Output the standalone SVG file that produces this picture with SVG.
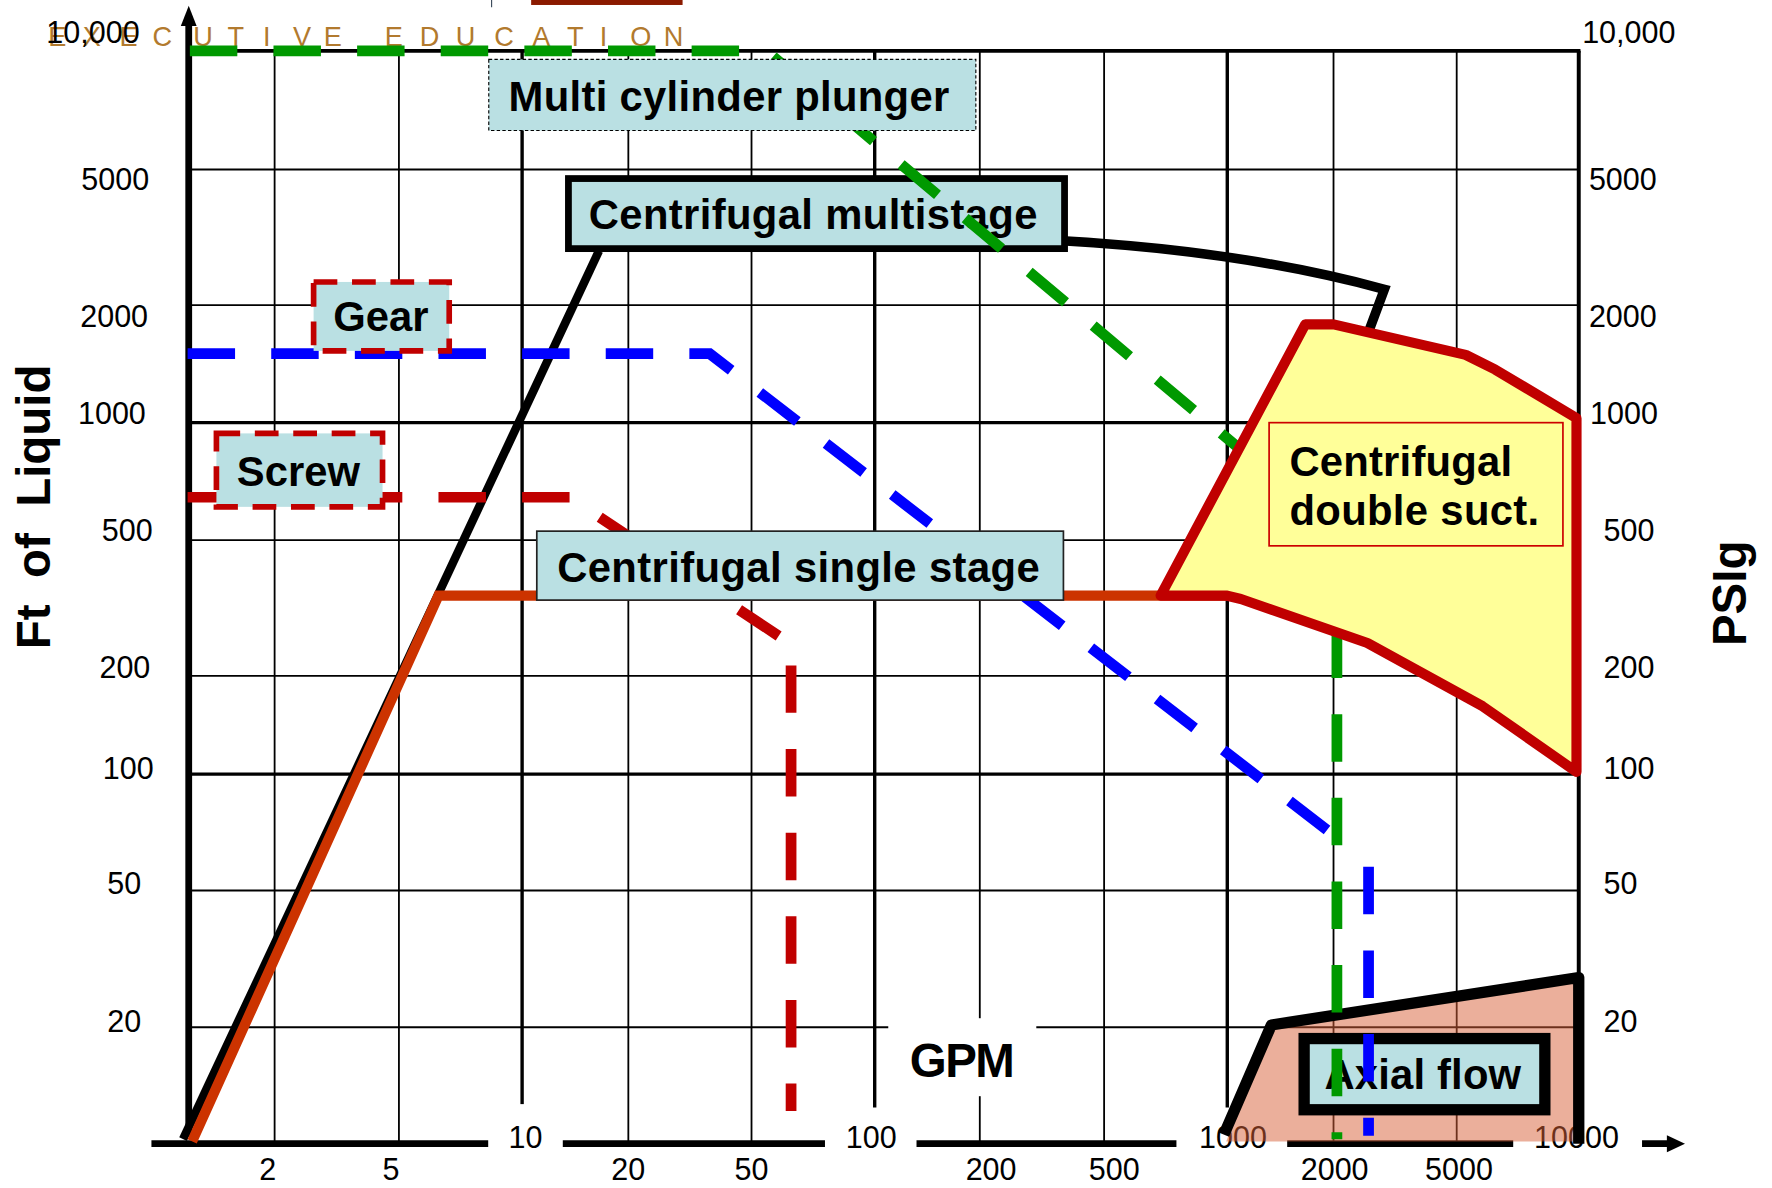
<svg xmlns="http://www.w3.org/2000/svg" width="1772" height="1188" viewBox="0 0 1772 1188">
<style>
.gt{stroke:#000;stroke-width:1.6;fill:none}
.gk{stroke:#000;stroke-width:3;fill:none}
.ax{stroke:#000;stroke-width:6;fill:none}
.num{font-family:"Liberation Sans",Arial,sans-serif;font-size:27px;fill:#000}
.lbl{font-family:"Liberation Sans",Arial,sans-serif;font-weight:bold;font-size:37px;fill:#000}
.ttl{font-family:"Liberation Sans",Arial,sans-serif;font-weight:bold;font-size:42px;fill:#000}
.box{fill:#BAE0E3}
.wm{font-family:"Liberation Sans",Arial,sans-serif;font-size:24px;fill:#B27A2E}
.dash{fill:none;stroke-width:9.5;stroke-dasharray:42 32}
</style>
<rect x="0" y="0" width="1772" height="1188" fill="#fff"/>
<g transform="scale(1.1301)">
  <!-- header artifacts -->
  <rect x="470" y="0" width="134" height="4.4" fill="#8B1A00"/>
  <line x1="435" y1="0" x2="435" y2="6.5" stroke="#3A4A5A" stroke-width="1"/>

  <!-- grid -->
  <g id="grid">
    <g class="gt">
      <line x1="243" y1="45" x2="243" y2="1012"/>
      <line x1="353" y1="45" x2="353" y2="1012"/>
      <line x1="556" y1="45" x2="556" y2="1012"/>
      <line x1="665" y1="45" x2="665" y2="1012"/>
      <line x1="867" y1="45" x2="867" y2="1012"/>
      <line x1="977" y1="45" x2="977" y2="1012"/>
      <line x1="1180" y1="45" x2="1180" y2="1012"/>
      <line x1="1289" y1="45" x2="1289" y2="1012"/>
      <line x1="166" y1="150" x2="1397" y2="150"/>
      <line x1="166" y1="270" x2="1397" y2="270"/>
      <line x1="166" y1="478" x2="1397" y2="478"/>
      <line x1="166" y1="598" x2="1397" y2="598"/>
      <line x1="166" y1="788" x2="1397" y2="788"/>
      <line x1="166" y1="909" x2="1397" y2="909"/>
    </g>
    <g class="gk">
      <line x1="462" y1="45" x2="462" y2="1012"/>
      <line x1="774" y1="45" x2="774" y2="1012"/>
      <line x1="1086" y1="45" x2="1086" y2="1012"/>
      <line x1="166" y1="374" x2="1397" y2="374"/>
      <line x1="166" y1="685" x2="1397" y2="685"/>
      <line x1="166" y1="45" x2="1398.5" y2="45" stroke-width="3.5"/>
      <line x1="1397" y1="45" x2="1397" y2="1012" stroke-width="3.5"/>
    </g>
  </g>

  <!-- axes -->
  <g id="axes">
    <line class="ax" x1="167" y1="1006" x2="167" y2="20" stroke-width="5"/>
    <polygon points="167,5 160,23 174,23" fill="#000"/>
    <line class="ax" x1="134" y1="1012" x2="1476" y2="1012"/>
    <polygon points="1491,1012 1475,1004.5 1475,1019.5" fill="#000"/>
  </g>

  <!-- label backgrounds cutting axis -->
  <g fill="#fff">
    <rect x="432" y="977" width="66" height="40"/>
    <rect x="730" y="980" width="81" height="37"/>
    <rect x="1041" y="980" width="98" height="37"/>
    <rect x="1339" y="980" width="114" height="37"/>
    <rect x="786" y="901" width="131" height="69"/>
  </g>

  <!-- watermark -->
  <text class="wm" text-anchor="middle" x="50.6 81.3 113.8 143.6 179.7 208.6 236.1 267.3 294.4 321 348.5 380 412 446 479 509 534 567 596" y="41">EXECUTIVE EDUCATION</text>

  <!-- y labels left -->
  <g id="ylabels-left" class="num">
    <text x="41" y="38">10,000</text>
    <text x="72" y="168">5000</text>
    <text x="71" y="289">2000</text>
    <text x="69" y="375">1000</text>
    <text x="90" y="479">500</text>
    <text x="88" y="600">200</text>
    <text x="91" y="689">100</text>
    <text x="95" y="791">50</text>
    <text x="95" y="913">20</text>
  </g>
  <g id="ylabels-right" class="num">
    <text x="1400" y="38">10,000</text>
    <text x="1406" y="168">5000</text>
    <text x="1406" y="289">2000</text>
    <text x="1407" y="375">1000</text>
    <text x="1419" y="479">500</text>
    <text x="1419" y="600">200</text>
    <text x="1419" y="689">100</text>
    <text x="1419" y="791">50</text>
    <text x="1419" y="913">20</text>
  </g>
  <g id="xlabels" class="num" text-anchor="middle">
    <text x="465" y="1016">10</text>
    <text x="771" y="1016">100</text>
    <text x="1091" y="1016">1000</text>
    <text x="1395" y="1016">10000</text>
    <text x="237" y="1044">2</text>
    <text x="346" y="1044">5</text>
    <text x="556" y="1044">20</text>
    <text x="665" y="1044">50</text>
    <text x="877" y="1044">200</text>
    <text x="986" y="1044">500</text>
    <text x="1181" y="1044">2000</text>
    <text x="1291" y="1044">5000</text>
  </g>

  <!-- axis titles -->
  <text class="ttl" xml:space="preserve" text-anchor="middle" transform="translate(44,448.5) rotate(-90)">Ft  of  Liquid</text>
  <text class="ttl" text-anchor="middle" transform="translate(1545,525) rotate(-90)">PSIg</text>
  <text class="ttl" x="805" y="953" textLength="93">GPM</text>

  <!-- axial flow region -->
  <g id="axial-flow">
    <polygon points="1085,1010 1125,907 1397,865 1397,1010" fill="#D75F37" fill-opacity="0.5"/>
    <polyline points="1083,1004 1125,907 1397,865 1397,1012" fill="none" stroke="#000" stroke-width="10" stroke-linejoin="round"/>
    <rect class="box" x="1154" y="919" width="213" height="63" stroke="#000" stroke-width="10"/>
    <text class="lbl" x="1172" y="964" textLength="174">Axial flow</text>
  </g>

  <!-- connectors / curves -->
  <g id="curves">
    <path d="M162,1008 L530,222" fill="none" stroke="#000" stroke-width="7.5"/>
    <path d="M940,213 Q1100,222 1225,256 L1212,291 L1205,312" fill="none" stroke="#000" stroke-width="8.5"/>
    <path d="M170,1010 L388,527 H1100" fill="none" stroke="#CC3300" stroke-width="9" stroke-linejoin="miter"/>
  </g>

  <g id="centrifugal-multistage">
    <rect class="box" x="503" y="158" width="439" height="62" stroke="#000" stroke-width="6"/>
    <text class="lbl" x="521" y="203" textLength="397">Centrifugal multistage</text>
  </g>

  <g id="dashed-curves">
    <path class="dash" d="M166,440 H504 L700,570 V983" stroke="#C00000"/>
    <path class="dash" d="M166,313 H628 L1193,749 M1211,767 V1005" stroke="#0000FF"/>
    <path class="dash" d="M168,45 H678 L1092,393 L1183,470 V1008" stroke="#009900" stroke-dasharray="31 11.5"/>
  </g>

  <g id="gear">
    <rect class="box" x="277.5" y="249.5" width="120" height="61" stroke="#C00000" stroke-width="5" stroke-dasharray="21 13"/>
    <text class="lbl" x="337" y="293" text-anchor="middle">Gear</text>
  </g>
  <g id="screw">
    <rect class="box" x="191.5" y="383.5" width="147" height="65" stroke="#C00000" stroke-width="5" stroke-dasharray="21 13"/>
    <text class="lbl" x="264" y="430" text-anchor="middle">Screw</text>
  </g>
  <g id="centrifugal-single">
    <rect class="box" x="475" y="470" width="466" height="61" stroke="#222" stroke-width="1.5"/>
    <text class="lbl" x="493" y="515" textLength="427">Centrifugal single stage</text>
  </g>
  <g id="multi-cylinder">
    <rect class="box" x="432.5" y="52.5" width="431" height="63" stroke="#000" stroke-width="1" stroke-dasharray="3 2"/>
    <text class="lbl" x="450" y="98" textLength="390">Multi cylinder plunger</text>
  </g>

  <g id="centrifugal-double">
    <polygon points="1027,527 1155,287 1180,287 1297,314 1323,327 1395,370 1395,683 1312,625 1210,569 1098,530 1085,527" fill="#FFFF99" stroke="#C00000" stroke-width="9" stroke-linejoin="round"/>
    <rect x="1123" y="374" width="260" height="109" fill="#FFFF99" stroke="#CC0000" stroke-width="1.5"/>
    <text class="lbl" x="1141" y="421" textLength="197">Centrifugal</text>
    <text class="lbl" x="1141" y="465" textLength="221">double suct.</text>
  </g>
</g>
</svg>
